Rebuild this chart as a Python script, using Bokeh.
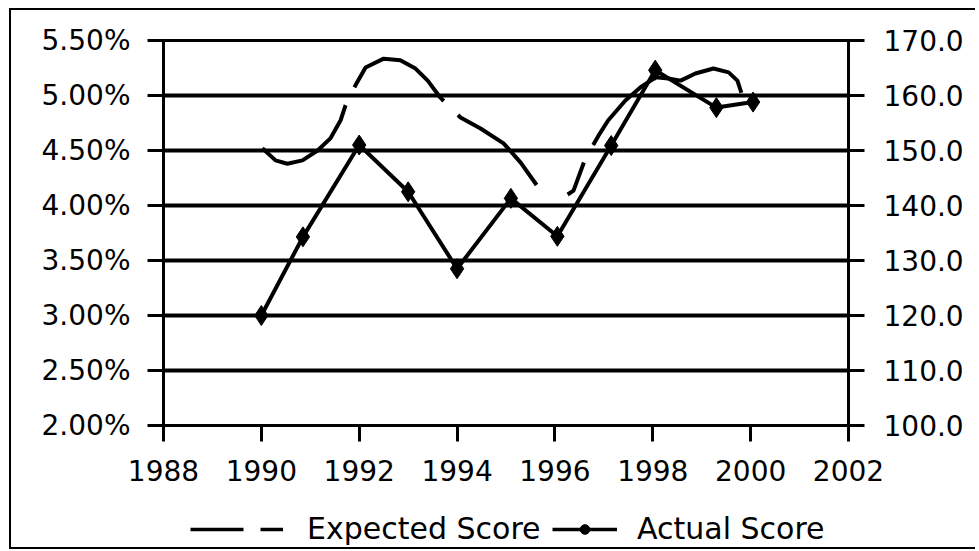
from bokeh.plotting import figure
from bokeh.layouts import column
from bokeh.models import (Range1d, LinearAxis, FixedTicker, PrintfTickFormatter,
                          Legend, LegendItem)
from bokeh.embed import file_html
from bokeh.resources import INLINE

# ---- data ----
year_ticks = [1988, 1990, 1992, 1994, 1996, 1998, 2000, 2002]
pct_ticks = [2.0, 2.5, 3.0, 3.5, 4.0, 4.5, 5.0, 5.5]
score_ticks = [100, 110, 120, 130, 140, 150, 160, 170]

actual_years = [1990.0, 1990.85, 1992.0, 1993.0, 1994.0, 1995.1, 1996.05, 1997.15, 1998.05, 1999.3, 2000.05]
actual_scores = [120.0, 134.3, 151.0, 142.5, 128.5, 141.3, 134.4, 150.9, 164.6, 157.8, 158.8]

expected_years = [1990.02, 1990.29, 1990.53, 1990.84, 1991.15, 1991.41, 1991.62, 1991.72,
                  1991.92, 1992.13, 1992.50, 1992.84, 1993.15, 1993.40, 1993.66, 1994.07,
                  1994.48, 1994.95, 1995.30, 1995.66, 1996.07, 1996.38, 1996.62, 1996.89,
                  1997.09, 1997.44, 1997.75, 1998.06, 1998.32, 1998.57, 1998.87, 1999.24,
                  1999.55, 1999.73, 1999.81]
expected_scores = [150.4, 148.2, 147.6, 148.2, 150.0, 152.2, 155.5, 158.2,
                   161.8, 165.1, 166.7, 166.4, 164.9, 162.7, 159.6, 156.0,
                   154.0, 151.3, 147.8, 143.3, 140.9, 142.7, 148.5, 152.7,
                   155.5, 159.1, 161.5, 163.3, 163.1, 162.7, 164.0, 164.9,
                   164.2, 162.7, 160.5]

FONT = "DejaVu Sans"
W = 964

p = figure(width=W, height=490, output_backend="svg", toolbar_location=None,
           x_range=Range1d(1988, 2002), y_range=Range1d(2.0, 5.5),
           min_border_left=152, min_border_right=W - 837, min_border_top=30,
           min_border_bottom=75, outline_line_color="black", outline_line_width=3)
p.extra_y_ranges = {"score": Range1d(100, 170)}

# axes
p.xaxis.ticker = FixedTicker(ticks=year_ticks)
p.yaxis.ticker = FixedTicker(ticks=pct_ticks)
p.yaxis.formatter = PrintfTickFormatter(format="%.2f%%")
right = LinearAxis(y_range_name="score", ticker=FixedTicker(ticks=score_ticks),
                   formatter=PrintfTickFormatter(format="%.1f"))
p.add_layout(right, "right")

for ax in [p.xaxis[0], p.yaxis[0], right]:
    ax.axis_line_color = "black"
    ax.axis_line_width = 3
    ax.major_tick_line_color = "black"
    ax.major_tick_line_width = 3
    ax.major_tick_out = 16
    ax.major_tick_in = 0
    ax.minor_tick_line_color = None
    ax.major_label_text_font = FONT
    ax.major_label_text_font_size = "28px"
    ax.major_label_text_color = "black"
p.yaxis[0].major_label_standoff = 17
right.major_label_standoff = 19
p.xaxis[0].major_label_standoff = 18

p.xgrid.grid_line_color = None
p.ygrid.ticker = FixedTicker(ticks=pct_ticks)
p.ygrid.grid_line_color = "black"
p.ygrid.grid_line_width = 4
p.ygrid.grid_line_alpha = 1.0

# series
p.line(expected_years, expected_scores, y_range_name="score",
       line_color="black", line_width=4,
       line_dash="118 20 120 20 107 38 37 20 200 20")
p.line(actual_years, actual_scores, y_range_name="score",
       line_color="black", line_width=4)
p.scatter(actual_years, actual_scores, y_range_name="score", marker="diamond",
          size=20, fill_color="black", line_color="black")

# ---- legend strip (its own small figure below; its frame aligns with the plot's) ----
lf = figure(width=W, height=47, output_backend="svg", toolbar_location=None,
            x_range=Range1d(0, 1), y_range=Range1d(0, 1), min_border=0,
            x_axis_location=None, y_axis_location=None,
            outline_line_color=None)
lf.grid.visible = False
# renderers carry the series' own data, which lies outside this strip's ranges
le = lf.line(expected_years, expected_scores, line_color="black", line_width=3.5,
             line_dash="53 17 23")
la = lf.line(actual_years, actual_scores, line_color="black", line_width=3.5)
lm = lf.scatter(actual_years, actual_scores, marker="circle", size=11,
                fill_color="black", line_color="black")

def mk_legend(item, loc, gw, standoff):
    return Legend(items=[item], location=loc, orientation="horizontal",
                  glyph_width=gw, glyph_height=24, label_height=30,
                  label_standoff=standoff, label_text_font=FONT,
                  label_text_font_size="30px", label_text_color="black",
                  padding=0, margin=0, spacing=0, border_line_color=None,
                  background_fill_alpha=0)

lf.add_layout(mk_legend(LegendItem(label="Expected Score", renderers=[le]), (27, 1), 93, 24))
lf.add_layout(mk_legend(LegendItem(label="Actual Score", renderers=[la, lm]), (389, 1), 65, 20))

layout = column(p, lf, margin=(8, 0, 0, 9),
                styles={"border-left": "2px solid black", "border-top": "2px solid black",
                        "border-bottom": "2px solid black"})

open("out.html", "w").write(file_html(layout, INLINE))
